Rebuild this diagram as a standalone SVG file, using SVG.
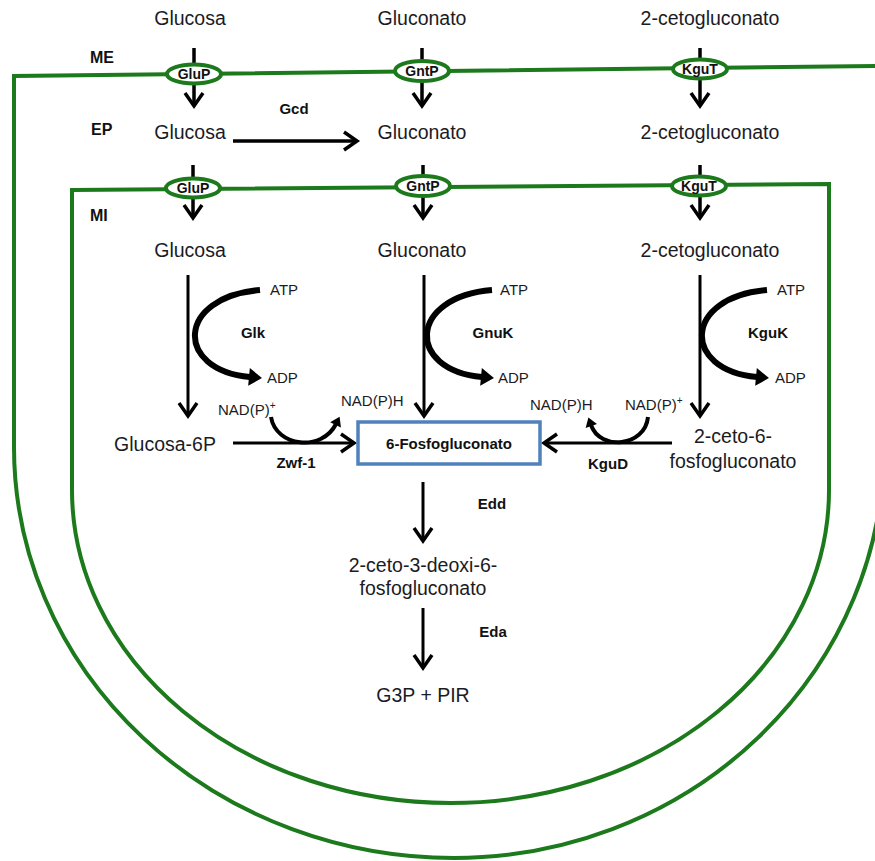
<svg xmlns="http://www.w3.org/2000/svg" width="875" height="861" viewBox="0 0 875 861">
<defs>
<style>
.t{font-family:"Liberation Sans",Arial,sans-serif;font-size:19.5px;fill:#1b1b24;text-anchor:middle}
.s{font-family:"Liberation Sans",Arial,sans-serif;font-size:15px;fill:#1b1b24}
.b{font-family:"Liberation Sans",Arial,sans-serif;font-size:15px;font-weight:bold;fill:#111;text-anchor:middle}
.m{font-family:"Liberation Sans",Arial,sans-serif;font-size:16px;font-weight:bold;fill:#111}
.tp ellipse{fill:#fff;stroke:#1c7a1c;stroke-width:4}
.tp text{font-family:"Liberation Sans",Arial,sans-serif;font-size:14px;font-weight:bold;fill:#111;text-anchor:middle}
.mem{fill:none;stroke:#1c7a1c;stroke-width:4}
.a{fill:none;stroke:#000;stroke-width:3;marker-end:url(#chev)}
.ta{stroke-width:3.5}
.c{fill:none;stroke:#000;stroke-width:6;marker-end:url(#tri)}
.n{fill:none;stroke:#000;stroke-width:4;marker-end:url(#tri2)}
</style>
<marker id="chev" viewBox="-20 -12 24 24" markerWidth="24" markerHeight="24" refX="0" refY="0" orient="auto" markerUnits="userSpaceOnUse">
<path d="M-13,-9 L0,0 L-13,9" fill="none" stroke="#000" stroke-width="3.5"/>
</marker>
<marker id="tri" viewBox="-4 -12 20 24" markerWidth="20" markerHeight="24" refX="0" refY="0" orient="auto" markerUnits="userSpaceOnUse">
<path d="M-1,-9 L12,0 L-1,9 Z" fill="#000"/>
</marker>
<marker id="tri2" viewBox="-4 -9 16 18" markerWidth="16" markerHeight="18" refX="0" refY="0" orient="auto" markerUnits="userSpaceOnUse">
<path d="M-1,-6 L8,0 L-1,6 Z" fill="#000"/>
</marker>
</defs>
<rect width="875" height="861" fill="#fff"/>

<g id="membranes">
<path id="outer-membrane" class="mem" d="M876,66 L14,76 L14,447 A440,411 0 0 0 454,858 A430,411 0 0 0 884,447"/>
<path id="inner-membrane" class="mem" d="M72,190 L829,184 L829,490 A378.5,313 0 0 1 72,490 Z"/>
</g>

<g id="connectors">
<line class="a ta" x1="194" y1="48" x2="194" y2="106"/>
<line class="a ta" x1="422" y1="48" x2="422" y2="106"/>
<line class="a ta" x1="700" y1="48" x2="700" y2="106"/>
<line class="a ta" x1="193" y1="165" x2="193" y2="218"/>
<line class="a ta" x1="423" y1="165" x2="423" y2="218"/>
<line class="a ta" x1="700" y1="165" x2="700" y2="218"/>
<line class="a ta" x1="233" y1="141" x2="357" y2="141"/>
<line class="a" x1="188" y1="275" x2="188" y2="416"/>
<line class="a" x1="424" y1="275" x2="424" y2="416"/>
<line class="a" x1="700" y1="275" x2="700" y2="416"/>
<path class="c" d="M260,290 C176,297 174,370 250,377"/>
<path class="c" d="M492,290 C408,297 406,370 482,377"/>
<path class="c" d="M767,290 C683,297 681,370 757,377"/>
<line class="a" x1="233" y1="443" x2="354" y2="443"/>
<path class="n" d="M271,417 C276,447 322,452 336,424"/>
<line class="a" x1="672" y1="443" x2="544" y2="443"/>
<path class="n" d="M648,417 C645,447 600,451 591,425"/>
<line class="a" x1="423" y1="482" x2="423" y2="541"/>
<line class="a" x1="423" y1="608" x2="423" y2="668"/>
</g>

<g id="layer-labels">
<text class="m" x="90" y="63">ME</text>
<text class="m" x="91" y="135">EP</text>
<text class="m" x="90" y="221">MI</text>
</g>

<g id="glucosa-ext"><text class="t" x="190" y="25">Glucosa</text></g>
<g id="gluconato-ext"><text class="t" x="422" y="25">Gluconato</text></g>
<g id="cetogluconato-ext"><text class="t" x="710" y="25">2-cetogluconato</text></g>

<g id="GluP-ME" class="tp"><ellipse cx="194" cy="74" rx="27" ry="9.5"/><text x="194" y="79">GluP</text></g>
<g id="GntP-ME" class="tp"><ellipse cx="422" cy="71" rx="27" ry="10"/><text x="422" y="76">GntP</text></g>
<g id="KguT-ME" class="tp"><ellipse cx="700" cy="69" rx="27" ry="9.5"/><text x="700" y="74">KguT</text></g>

<g id="glucosa-ep"><text class="t" x="190" y="139">Glucosa</text></g>
<g id="gluconato-ep"><text class="t" x="422" y="139">Gluconato</text></g>
<g id="cetogluconato-ep"><text class="t" x="710" y="139">2-cetogluconato</text></g>
<g id="gcd"><text class="b" x="294" y="114">Gcd</text></g>

<g id="GluP-MI" class="tp"><ellipse cx="193" cy="188" rx="27" ry="9.5"/><text x="193" y="193">GluP</text></g>
<g id="GntP-MI" class="tp"><ellipse cx="423" cy="186" rx="27" ry="10"/><text x="423" y="191">GntP</text></g>
<g id="KguT-MI" class="tp"><ellipse cx="699" cy="186" rx="27" ry="9.5"/><text x="699" y="191">KguT</text></g>

<g id="glucosa-mi"><text class="t" x="190" y="257">Glucosa</text></g>
<g id="gluconato-mi"><text class="t" x="422" y="257">Gluconato</text></g>
<g id="cetogluconato-mi"><text class="t" x="710" y="257">2-cetogluconato</text></g>

<g id="glk">
<text class="s" x="270" y="295">ATP</text>
<text class="b" x="253" y="338">Glk</text>
<text class="s" x="267" y="383">ADP</text>
</g>
<g id="gnuk">
<text class="s" x="500" y="295">ATP</text>
<text class="b" x="493" y="338">GnuK</text>
<text class="s" x="498" y="383">ADP</text>
</g>
<g id="kguk">
<text class="s" x="777" y="295">ATP</text>
<text class="b" x="768" y="338">KguK</text>
<text class="s" x="775" y="383">ADP</text>
</g>

<g id="zwf">
<text class="s" x="218" y="415">NAD(P)<tspan dy="-6" font-size="10">+</tspan></text>
<text class="s" x="341" y="406">NAD(P)H</text>
<text class="b" x="296" y="468">Zwf-1</text>
</g>
<g id="kgud">
<text class="s" x="530" y="410">NAD(P)H</text>
<text class="s" x="625" y="410">NAD(P)<tspan dy="-6" font-size="10">+</tspan></text>
<text class="b" x="608" y="469">KguD</text>
</g>

<g id="glucosa-6p"><text class="t" x="165" y="451">Glucosa-6P</text></g>
<g id="ceto-6-fosfogluconato">
<text class="t" x="733" y="443">2-ceto-6-</text>
<text class="t" x="733" y="468">fosfogluconato</text>
</g>
<g id="fosfogluconato-6">
<rect x="358" y="422" width="182" height="42" fill="#fff" stroke="#4f81bd" stroke-width="3.5"/>
<text class="b" x="449" y="449" font-size="16px">6-Fosfogluconato</text>
</g>
<g id="edd"><text class="b" x="492" y="509">Edd</text></g>
<g id="kdpg">
<text class="t" x="423" y="572">2-ceto-3-deoxi-6-</text>
<text class="t" x="423" y="595">fosfogluconato</text>
</g>
<g id="eda"><text class="b" x="493" y="637">Eda</text></g>
<g id="g3p-pir"><text class="t" x="423" y="702">G3P + PIR</text></g>
</svg>
